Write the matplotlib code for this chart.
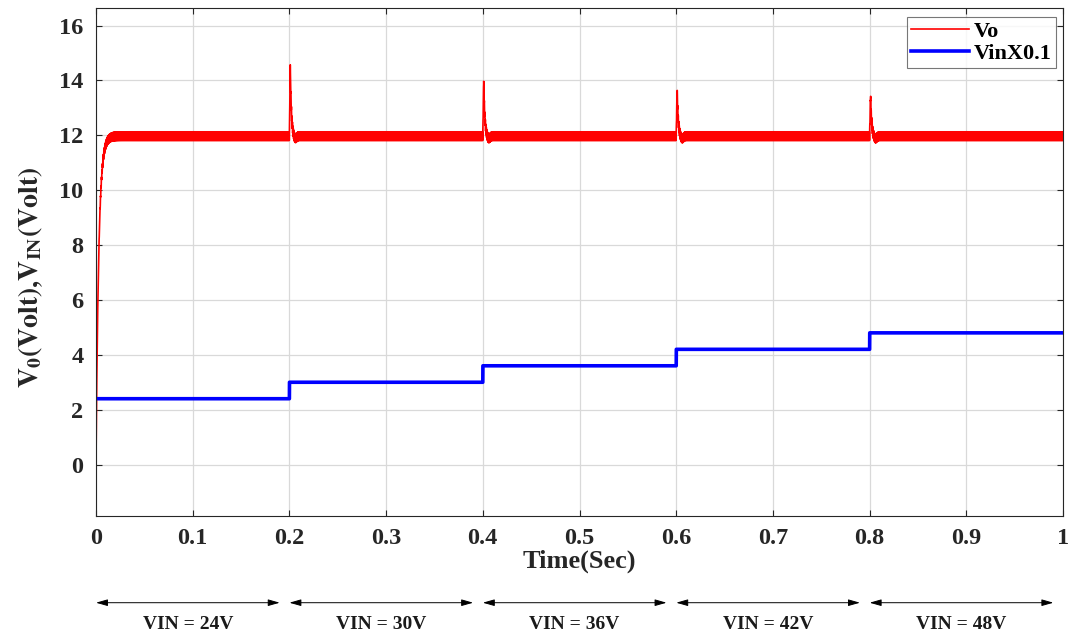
import numpy as np
import matplotlib.pyplot as plt

plt.rcParams['font.family'] = 'Liberation Serif'
plt.rcParams['font.weight'] = 'bold'
plt.rcParams['mathtext.fontset'] = 'stix'

# input voltage steps (V) and the switching instants (s)
step_times = [0.0, 0.2, 0.4, 0.6, 0.8]
vin = [24, 30, 36, 42, 48]
vin_labels = ['VIN = 24V', 'VIN = 30V', 'VIN = 36V', 'VIN = 42V', 'VIN = 48V']
# overshoot peak of Vo at each step (V)
spike_times = [0.2, 0.4, 0.6, 0.8]
spike_peaks = [14.75, 14.15, 13.8, 13.55]
vo_ref = 12.0
ripple = 0.16

t = np.linspace(0, 1, 200001)

# output voltage: soft start, switching ripple and overshoot at each step
vo = vo_ref * (1 - np.exp(-t / 0.0028))
vo += ripple * np.sin(2 * np.pi * 2000 * t) * (1 - np.exp(-t / 0.005)) - 0.03
for ts, pk in zip(spike_times, spike_peaks):
    dt = t - ts
    m = dt >= 0
    rise = np.clip(dt[m] / 0.0009, 0, 1)
    vo[m] += (pk - vo_ref) * rise * np.exp(-np.clip(dt[m] - 0.0009, 0, None) / 0.0011)
    vo[m] -= 0.1 * np.exp(-((dt[m] - 0.006) / 0.002) ** 2)

# scaled input voltage
vin_scaled = np.zeros_like(t)
for ts, v in zip(step_times, vin):
    vin_scaled[t >= ts] = v * 0.1

fig = plt.figure(figsize=(10.7, 6.33), dpi=100)
ax = fig.add_axes([0.0897, 0.185, 0.9038, 0.802])

ax.plot(t, vo, color='red', lw=1.2, label='Vo')
ax.plot(t, vin_scaled, color='#0000ff', lw=2.6, label='VinX0.1')

ax.set_xlim(0, 1)
ax.set_ylim(-1.87, 16.63)
ax.set_xticks(np.arange(0, 1.01, 0.1))
ax.set_xticklabels(['0', '0.1', '0.2', '0.3', '0.4', '0.5', '0.6', '0.7', '0.8', '0.9', '1'])
ax.set_yticks(np.arange(0, 17, 2))
ax.grid(True, color='#d9d9d9', lw=0.9)
ax.tick_params(direction='in', labelsize=17.5, colors='#262626', length=4, pad=9,
               top=True, right=True)
for s in ax.spines.values():
    s.set_color('#262626')
    s.set_linewidth(0.8)

ax.set_xlabel('Time(Sec)', fontsize=19, fontweight='bold', color='#262626', labelpad=0)
ax.set_ylabel(r'$\mathbf{V_0(Volt){,}V_{IN}(Volt)}$', fontsize=20, color='#262626')
ax.yaxis.set_label_coords(-0.053, 0.47)

leg = ax.legend(loc='upper right', bbox_to_anchor=(0.9925, 0.983), fontsize=16,
                fancybox=False, borderpad=0.2, labelspacing=0.05, handlelength=2.6,
                handletextpad=0.2, borderaxespad=0)
leg.get_frame().set_edgecolor('#555555')
leg.get_frame().set_linewidth(0.8)

# VIN interval annotations below the axis
trans = ax.get_xaxis_transform()
bounds = step_times + [1.0]
for i, lab in enumerate(vin_labels):
    x0 = bounds[i] + 0.0
    x1 = bounds[i + 1] - 0.01
    ax.annotate('', xy=(x0, -0.171), xytext=(x1, -0.171), xycoords=trans, textcoords=trans,
                arrowprops=dict(arrowstyle='<|-|>,head_length=0.7,head_width=0.2',
                                color='black', lw=0.7, shrinkA=0, shrinkB=0),
                annotation_clip=False)
    ax.text((x0 + x1) / 2, -0.213, lab, transform=trans, ha='center', va='center',
            fontsize=14, fontweight='bold', color='#1a1a1a')

fig.savefig('out.png', dpi=100)
